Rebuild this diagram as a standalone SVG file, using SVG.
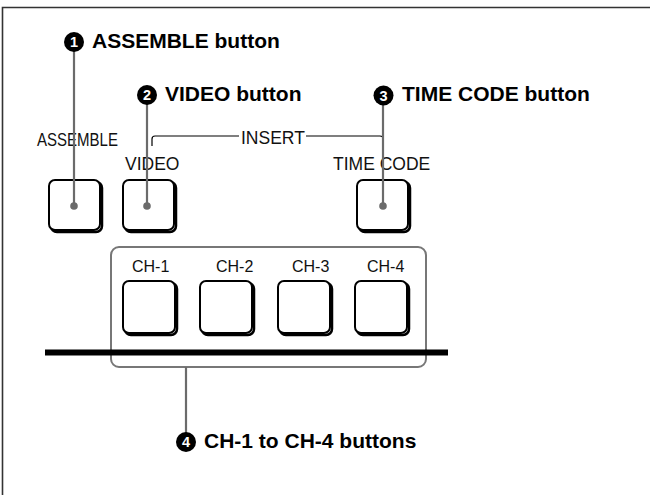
<svg xmlns="http://www.w3.org/2000/svg" width="650" height="495" viewBox="0 0 650 495">
  <style>
    .frame { fill: none; stroke: #333; stroke-width: 1.6; }
    .title { font-family: "Liberation Sans", Arial, sans-serif; font-weight: bold; font-size: 21px; fill: #000; }
    .num { font-family: "Liberation Sans", Arial, sans-serif; font-weight: bold; font-size: 14.5px; fill: #fff; text-anchor: middle; }
    .lbl { font-family: "Liberation Sans", Arial, sans-serif; font-size: 17.5px; fill: #111; }
    .ch { font-family: "Liberation Sans", Arial, sans-serif; font-size: 16px; fill: #111; }
    .btn { fill: #fff; stroke: #000; stroke-width: 2; }
    .shadow { fill: none; stroke: #000; stroke-width: 2.5; }
    .leader { fill: none; stroke: #6b6b6b; stroke-width: 2.2; }
    .dot { fill: #6b6b6b; }
    .bracket { fill: none; stroke: #000; stroke-width: 1.2; }
    .group { fill: none; stroke: #777; stroke-width: 2; }
  </style>
  <defs>
    <g id="key52">
      <rect class="shadow" x="2" y="2" width="51" height="50" rx="6"/>
      <rect class="btn" x="0" y="0" width="51" height="50" rx="6"/>
    </g>
    <g id="key54">
      <rect class="shadow" x="2" y="2" width="52" height="52" rx="6"/>
      <rect class="btn" x="0" y="0" width="52" height="52" rx="6"/>
    </g>
  </defs>

  <rect width="650" height="495" fill="#fff"/>
  <!-- panel frame (top and left edges only) -->
  <path class="frame" d="M2.5 495 V7.5 H650"/>

  <!-- ASSEMBLE button -->
  <g id="assemble">
    <text class="lbl" x="37" y="146" font-size="18" textLength="81" lengthAdjust="spacingAndGlyphs">ASSEMBLE</text>
    <use href="#key52" x="49" y="180"/>
  </g>

  <!-- INSERT label -->
  <g id="insert">
    <text class="lbl" x="241" y="144">INSERT</text>
  </g>

  <!-- VIDEO button -->
  <g id="video">
    <text class="lbl" x="125" y="170">VIDEO</text>
    <use href="#key52" x="123" y="180"/>
  </g>

  <!-- TIME CODE button -->
  <g id="timecode">
    <text class="lbl" x="333" y="170">TIME CODE</text>
    <use href="#key52" x="357" y="180"/>
  </g>

  <!-- channel button group -->
  <g id="channels">
    <rect class="group" x="111" y="247" width="315" height="120" rx="8"/>
    <text class="ch" x="132" y="272">CH-1</text>
    <text class="ch" x="216" y="272">CH-2</text>
    <text class="ch" x="292" y="272">CH-3</text>
    <text class="ch" x="367" y="272">CH-4</text>
    <use href="#key54" x="123" y="281"/>
    <use href="#key54" x="200" y="281"/>
    <use href="#key54" x="278" y="281"/>
    <use href="#key54" x="355" y="281"/>
  </g>

  <!-- panel edge bar -->
  <rect id="panel-bar" x="45" y="349.5" width="403" height="6" fill="#000"/>

  <!-- connectors: leader lines, their end dots and the INSERT bracket -->
  <g id="connectors">
    <path class="bracket" d="M152 146 V139 Q152 136 155 136 H239"/>
    <path class="bracket" d="M306 136 H380 Q383 136 383 139 V148"/>
    <line class="leader" x1="74" y1="42" x2="74" y2="206"/>
    <line class="leader" x1="147" y1="95" x2="147" y2="206"/>
    <line class="leader" x1="383" y1="95" x2="383" y2="206"/>
    <line class="leader" x1="186" y1="367" x2="186" y2="441"/>
    <circle class="dot" cx="74" cy="206" r="3.8"/>
    <circle class="dot" cx="147" cy="206" r="3.8"/>
    <circle class="dot" cx="383" cy="206" r="3.8"/>
  </g>

  <!-- callouts -->
  <g id="callout-1">
    <circle cx="74" cy="42" r="10" fill="#000"/>
    <text class="num" x="74" y="47">1</text>
    <text class="title" x="92" y="48">ASSEMBLE button</text>
  </g>
  <g id="callout-2">
    <circle cx="147" cy="95" r="10" fill="#000"/>
    <text class="num" x="147" y="100">2</text>
    <text class="title" x="165" y="101">VIDEO button</text>
  </g>
  <g id="callout-3">
    <circle cx="383.5" cy="95.5" r="10" fill="#000"/>
    <text class="num" x="383.5" y="100.5">3</text>
    <text class="title" x="402" y="101">TIME CODE button</text>
  </g>
  <g id="callout-4">
    <circle cx="186" cy="442" r="10" fill="#000"/>
    <text class="num" x="186" y="447">4</text>
    <text class="title" x="204" y="448">CH-1 to CH-4 buttons</text>
  </g>
</svg>
